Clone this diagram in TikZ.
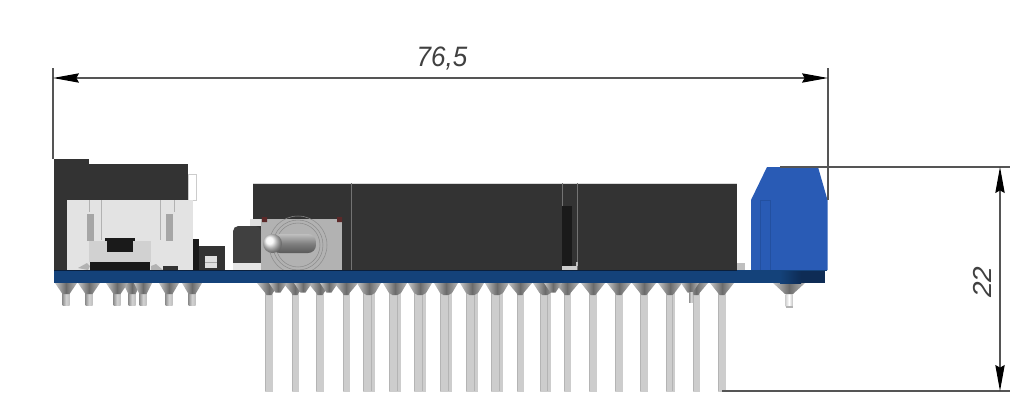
\documentclass[tikz,border=0pt]{standalone}
\usepackage{fontspec}
\setmainfont{Liberation Sans}
\usetikzlibrary{arrows.meta}
\definecolor{boardblue}{HTML}{14427A}
\definecolor{boarddark}{HTML}{0E2C55}
\definecolor{blockdark}{HTML}{333333}
\definecolor{blockblack}{HTML}{1A1A1A}
\definecolor{termblue}{HTML}{295BB5}
\definecolor{termedge}{HTML}{2350A0}
\definecolor{housing}{HTML}{E3E3E3}
\definecolor{pinfill}{HTML}{CDCDCD}
\definecolor{pinedge}{HTML}{B4B4B4}
\definecolor{dimline}{HTML}{555555}
\tikzset{
  dimln/.style={draw=dimline,line width=0.8pt},
  dimarrow/.style={dimln,{Stealth[length=19.5pt,width=7pt,inset=2pt,black]}-{Stealth[length=19.5pt,width=7pt,inset=2pt,black]}},
  dimtext/.style={inner sep=0pt,text=black!75,font=\fontsize{19.5}{20}\selectfont\itshape},
  longpin/.style={fill=pinfill,draw=none},
  pinstripe/.style={draw=pinedge,line width=0.6pt},
  shortpin/.style={left color=gray!85,right color=gray!50,middle color=gray!35,draw=none},
  cone/.style={left color=black!22,right color=black!28,middle color=black!58,draw=none},
  dark/.style={fill=blockdark,draw=none},
  black box/.style={fill=blockblack,draw=none},
  light/.style={fill=housing,draw=none},
}
\newcommand{\longpinat}[2]{% x, width
  \path[longpin] ({#1-#2/2},290) rectangle ({#1+#2/2},391.5);
  \path[pinstripe] ({#1-#2/2+0.4},292) -- ({#1-#2/2+0.4},391);
  \path[cone] ({#1-12},283) -- ({#1+12},283) -- ({#1+#2/2},293) -- ({#1+2.5},295) -- ({#1-2.5},295) -- ({#1-#2/2},293) -- cycle;
}
\newcommand{\shortpinat}[3]{% x, half width of cone, tip y
  \path[shortpin] ({#1-3.5},290) rectangle ({#1+3.5},#3);
  \path[cone] ({#1-#2},283) -- ({#1+#2},283) -- ({#1+3.5},294) -- ({#1-3.5},294) -- cycle;
}
\begin{document}
\begin{tikzpicture}[x=0.75pt,y=-0.75pt]
\useasboundingbox[fill=white] (0,0) rectangle (1032,415);

% long pins
\foreach \x/\w in {269/7.5,295/7,320/7.5,346/7,369/12,395/12,420/12,446/12,472/12,497/12,520/7,545/11,567/7,593/8,619/8,644/8,670/9,696/7,722/8}{
  \longpinat{\x}{\w}
}
\foreach \x in {371,397,422,448,474,499,547,672}{
  \path[pinstripe] (\x,295) -- (\x,391);
}
% extra overlapping cones on the left group
\foreach \x in {278,303,329,553,690}{
  \path[cone] ({\x-9},283) -- ({\x+9},283) -- ({\x+2.5},292.5) -- ({\x-2.5},292.5) -- cycle;
}
\path[shortpin] (689,292) rectangle (693,302);
% short pins
\shortpinat{132}{9}{305}
\foreach \x/\h in {66/11,89/11,117/11,143/9,169/10,192/10}{
  \shortpinat{\x}{\h}{305}
}
\path[left color=gray!35,right color=gray!45,middle color=white] (785.5,294) rectangle (792.5,306);
\path[fill=gray!60] (785.5,306) rectangle (792.5,307.5);
\path[cone] (773,283) -- (805,283) -- (793,294) -- (785,294) -- cycle;

% left connector
\path[draw=black!20,fill=white,line width=0.4pt] (188,174) rectangle (196,200);
\path[dark] (54,159) rectangle (89,200);
\path[dark] (89,164) rectangle (188,200);
\path[dark] (54,200) rectangle (67,270);
\path[light] (67,200) rectangle (193,270);
\path[draw=black!30,line width=0.4pt] (101,200) -- (101,240);
\path[draw=black!30,line width=0.4pt] (160,200) -- (160,240);
\path[draw=black!30,line width=0.4pt] (89,200) -- (89,212) (174,200) -- (174,212);
\path[fill=black!35] (87,214) rectangle (94,241);
\path[fill=black!35] (166,214) rectangle (173,241);
% tact switch
\path[fill=black!18] (89,241) rectangle (151,262);
\path[fill=black!12] (88,262) rectangle (152,264);
\path[black box] (105,237.5) rectangle (135,241);
\path[black box] (107,241) rectangle (133,252);
\path[black box] (90,262) rectangle (150,270);
\path[fill=black!30] (78,268) -- (87,263) -- (90,266) -- (88,270) -- cycle;
\path[fill=black!30] (151,266) -- (156,264) -- (163,270) -- (151,270) -- cycle;
\path[dark] (163,266) rectangle (178,270);
% small component
\path[black box] (193,239) rectangle (199,270);
\path[dark] (199,246) rectangle (225,270);
\path[fill=black!12] (205,256) rectangle (217,268);
\path[fill=black!35] (205,262) rectangle (217,263);

% main block
\path[dark] (253,183) rectangle (737,270);
\path[draw=black!15,line width=0.5pt] (253,183) -- (737,183);
\path[draw=black!55,line width=0.25pt] (351,183) -- (351,270) (562,183) -- (562,206) (577,183) -- (577,270);
\path[black box] (562,206) rectangle (572,266);
\path[fill=black!20] (562,266) rectangle (577,270);
\path[fill=black!25] (576,262) rectangle (578,266);
\path[fill=black!25] (737,263) rectangle (745,270);

% toggle switch
\path[fill=black!75,rounded corners=4pt] (233,275) -- (233,226) -- (261,226) -- (261,275) -- cycle;
\path[fill=black!10] (233,263) rectangle (261,270);
\path[fill=black!12] (250,219) rectangle (262,226);
\path[fill=black!30] (261,219) rectangle (342,270);
\path[fill=blockdark!80!red] (262,217) rectangle (267,222) (337,217) rectangle (342,222);
\foreach \r in {22,25,29}{
  \path[draw=black!45,line width=0.4pt] (298,245) circle[radius=\r];
}
\path[top color=black!25,bottom color=black!65,middle color=black!50,rounded corners=6pt] (272,234) rectangle (316,253);
\path[shade,ball color=black!4] (272.5,243.5) circle[radius=9.5];

% board
\path[fill=boardblue] (54,270) rectangle (800,283);
\path[left color=boardblue,right color=boarddark] (780,270) rectangle (801,283);
\path[fill=boarddark] (801,270) rectangle (825,283);
\path[fill=boarddark!70!black] (54,270) rectangle (737,271);

% blue terminal
\path[fill=termblue] (751,200) -- (767,167) -- (818,167) -- (827.5,200) -- (827.5,270) -- (751,270) -- cycle;
\path[draw=termedge,line width=0.5pt] (760,270) -- (760,200.5) -- (770,200.5) -- (770,270);
\path[fill=boardblue] (751,270) rectangle (827,271);

% dimensions
\coordinate (extLtop) at (53,68);
\coordinate (extLbot) at (53,159);
\coordinate (extRtop) at (828,68);
\coordinate (extRbot) at (828,200);
\coordinate (extTl) at (780,167);
\coordinate (extTr) at (1010,167);
\coordinate (extBl) at (722,391);
\coordinate (extBr) at (1010,391);
\coordinate (dimHl) at (53,78);
\coordinate (dimHr) at (828,78);
\coordinate (dimVt) at (1000,167);
\coordinate (dimVb) at (1000,391);
\draw[dimln] (extLtop) -- (extLbot);
\draw[dimln] (extRtop) -- (extRbot);
\draw[dimln] (extTl) -- (extTr);
\draw[dimln] (extBl) -- (extBr);
\draw[dimarrow] (dimHl) -- (dimHr);
\draw[dimarrow] (dimVt) -- (dimVb);
\node[dimtext,yscale=1.08] (lblW) at (442,58) {76,5};
\node[dimtext,rotate=90,xscale=1.08] (lblH) at (982,282) {22};
\end{tikzpicture}
\end{document}
